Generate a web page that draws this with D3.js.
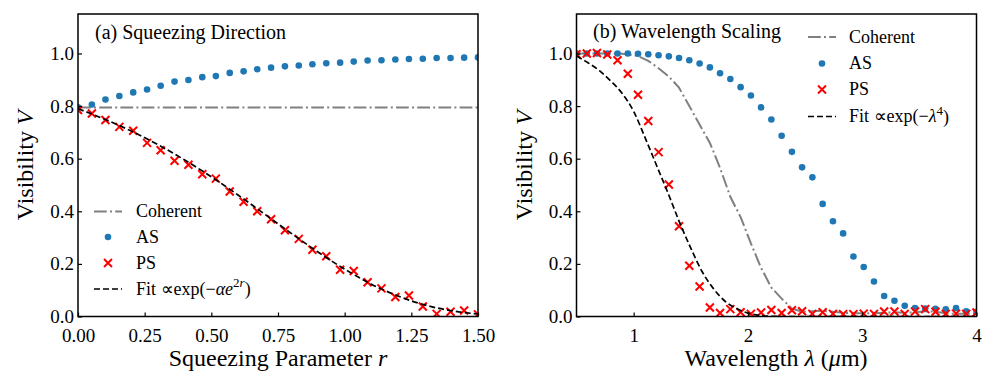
<!DOCTYPE html>
<html>
<head>
<meta charset="utf-8">
<script src="https://cdn.jsdelivr.net/npm/d3@7"></script>
<style>
  body { margin: 0; background: #fff; }
  text { font-family: "Liberation Serif", "Times New Roman", serif; fill: #000; }
</style>
</head>
<body>
<svg id="chart" width="995" height="389"></svg>
<script>
// ---- data ----
const squeezeR = [0, 0.052, 0.103, 0.155, 0.207, 0.259, 0.310, 0.362, 0.414, 0.466,
  0.517, 0.569, 0.621, 0.672, 0.724, 0.776, 0.828, 0.879, 0.931, 0.983,
  1.034, 1.086, 1.138, 1.190, 1.241, 1.293, 1.345, 1.397, 1.448, 1.5];
const squeezeAS = [0.795, 0.806, 0.825, 0.838, 0.852, 0.863, 0.877, 0.893, 0.899, 0.910,
  0.914, 0.926, 0.932, 0.940, 0.946, 0.951, 0.954, 0.959, 0.963, 0.965,
  0.969, 0.973, 0.974, 0.977, 0.979, 0.980, 0.983, 0.983, 0.984, 0.985];
const squeezePS = [0.785, 0.772, 0.747, 0.721, 0.706, 0.660, 0.632, 0.592, 0.577, 0.541,
  0.524, 0.475, 0.436, 0.400, 0.370, 0.328, 0.295, 0.254, 0.229, 0.178,
  0.173, 0.130, 0.107, 0.074, 0.080, 0.038, 0.010, 0.018, 0.023, 0.008];
const squeezeCoherentR = [0, 1.5];
const squeezeCoherent = [0.795, 0.795];
const squeezeFitR = [0, 0.1, 0.2, 0.3, 0.4, 0.5, 0.6, 0.7, 0.8, 0.9, 1.0, 1.1, 1.2, 1.3, 1.4, 1.5];
const squeezeFit = [0.790, 0.750, 0.705, 0.653, 0.595, 0.531, 0.462, 0.389, 0.316, 0.245,
  0.180, 0.123, 0.078, 0.044, 0.022, 0.0095];

const lambda = [0.5, 0.590, 0.679, 0.769, 0.859, 0.949, 1.038, 1.128, 1.218, 1.308,
  1.397, 1.487, 1.577, 1.667, 1.756, 1.846, 1.936, 2.026, 2.115, 2.205,
  2.295, 2.385, 2.474, 2.564, 2.654, 2.744, 2.833, 2.923, 3.013, 3.103,
  3.192, 3.282, 3.372, 3.462, 3.551, 3.641, 3.731, 3.821, 3.910, 4.0];
const waveAS = [1.0, 1.0, 1.0, 1.0, 1.0, 1.0, 0.999, 0.997, 0.993, 0.989,
  0.983, 0.974, 0.962, 0.947, 0.925, 0.903, 0.872, 0.840, 0.795, 0.749,
  0.687, 0.626, 0.567, 0.529, 0.428, 0.362, 0.316, 0.228, 0.188, 0.133,
  0.078, 0.060, 0.041, 0.032, 0.030, 0.029, 0.027, 0.032, 0.020, 0.018];
const wavePS = [0.997, 1.0, 1.002, 0.996, 0.974, 0.923, 0.843, 0.743, 0.625, 0.502,
  0.343, 0.193, 0.114, 0.034, 0.013, 0.028, 0.016, 0.010, 0.015, 0.025,
  0.013, 0.024, 0.020, 0.010, 0.016, 0.010, 0.009, 0.009, 0.011, 0.010,
  0.019, 0.019, 0.010, 0.019, 0.028, 0.018, 0.010, 0.011, 0.010, 0.015];
const waveCoherent = [1.0, 1.0, 1.0, 1.0, 1.0, 0.997, 0.990, 0.972, 0.944, 0.912,
  0.870, 0.800, 0.730, 0.660, 0.565, 0.455, 0.378, 0.278, 0.185, 0.110,
  0.068, 0.030, 0.018, 0.020, 0.022, 0.018, 0.014, 0.012, 0.012, 0.012,
  0.014, 0.016, 0.014, 0.016, 0.020, 0.018, 0.012, 0.010, 0.010, 0.010];
const waveFitL = [0.5, 0.6, 0.7, 0.8, 0.9, 1.0, 1.1, 1.2, 1.3, 1.4, 1.5, 1.6, 1.7, 1.8,
  1.9, 2.0, 2.1, 2.2, 2.3, 2.4, 4.0];
const waveFit = [0.990, 0.965, 0.935, 0.895, 0.848, 0.780, 0.680, 0.575, 0.470, 0.360,
  0.260, 0.170, 0.105, 0.058, 0.030, 0.013, 0.004, 0.001, 0, 0, 0];

const squeezeTicks = [0, 0.25, 0.5, 0.75, 1.0, 1.25, 1.5];
const waveTicks = [1, 2, 3, 4];
const visTicks = [0, 0.2, 0.4, 0.6, 0.8, 1.0];

const blue = "#1f77b4", red = "#ff0000", gray = "#808080";

var svg = d3.select("#chart");
var plotTop = 14, plotBottom = 316.5;

function zip(xs, ys) { return xs.map((x, i) => [x, ys[i]]); }

function panel(id, left, right, xDomain, xTicks, xFmt, series) {
  var x = d3.scaleLinear().domain(xDomain).range([left, right]);
  var y = d3.scaleLinear().domain([0, 1.15]).range([plotBottom, plotTop]);
  var g = svg.append("g").attr("id", id);

  g.append("clipPath").attr("id", "clip-" + id)
    .append("rect").attr("x", left).attr("y", plotTop)
    .attr("width", right - left).attr("height", plotBottom - plotTop);

  var plot = g.append("g").attr("clip-path", "url(#clip-" + id + ")");
  var line = d3.line().x(d => x(d[0])).y(d => y(d[1]));
  var smooth = d3.line().x(d => x(d[0])).y(d => y(d[1])).curve(d3.curveMonotoneX);

  // coherent
  plot.append("path").datum(series.coherent)
    .attr("d", line).attr("fill", "none").attr("stroke", gray)
    .attr("stroke-width", 2).attr("stroke-dasharray", "12.8,3.2,2,3.2");
  // AS
  plot.selectAll(".as").data(series.as).enter().append("circle")
    .attr("class", "as").attr("cx", d => x(d[0])).attr("cy", d => y(d[1]))
    .attr("r", 3.3).attr("fill", blue);
  // PS
  plot.selectAll(".ps").data(series.ps).enter().append("path")
    .attr("class", "ps")
    .attr("transform", d => `translate(${x(d[0])},${y(d[1])})`)
    .attr("d", "M-4,-4L4,4M-4,4L4,-4")
    .attr("stroke", red).attr("stroke-width", 2).attr("fill", "none");
  // fit
  plot.append("path").datum(series.fit)
    .attr("d", smooth).attr("fill", "none").attr("stroke", "#000")
    .attr("stroke-width", 1.7).attr("stroke-dasharray", "6,3");

  // axes
  var xAxis = d3.axisBottom(x).tickValues(xTicks).tickFormat(xFmt).tickSizeInner(-4).tickSizeOuter(0).tickPadding(8);
  var yAxis = d3.axisLeft(y).tickValues(visTicks).tickFormat(d3.format(".1f")).tickSizeInner(-4).tickSizeOuter(0).tickPadding(4);
  var gx = g.append("g").attr("transform", `translate(0,${plotBottom})`).call(xAxis);
  var gy = g.append("g").attr("transform", `translate(${left},0)`).call(yAxis);
  [gx, gy].forEach(a => {
    a.select(".domain").remove();
    a.selectAll(".tick line").attr("stroke", "#000").attr("stroke-width", 1.2);
    a.selectAll("text").attr("font-size", 19);
  });
  gx.selectAll("text").attr("dy", "0.9em");

  g.append("rect").attr("x", left).attr("y", plotTop)
    .attr("width", right - left).attr("height", plotBottom - plotTop)
    .attr("fill", "none").attr("stroke", "#000").attr("stroke-width", 1.5);

  // y label
  var yl = g.append("text")
    .attr("transform", `translate(${left - 45},${(plotTop + plotBottom) / 2}) rotate(-90)`)
    .attr("text-anchor", "middle").attr("font-size", 24);
  yl.append("tspan").text("Visibility ");
  yl.append("tspan").attr("font-style", "italic").text("V");

  return { g: g, x: x, y: y };
}

function legend(g, lx, tx, rows, fitLabel) {
  var kinds = ["coherent", "as", "ps", "fit"];
  var labels = ["Coherent", "AS", "PS", null];
  kinds.forEach((k, i) => {
    var yy = rows[i];
    if (k === "coherent") {
      g.append("line").attr("x1", lx).attr("x2", lx + 28).attr("y1", yy).attr("y2", yy)
        .attr("stroke", gray).attr("stroke-width", 2).attr("stroke-dasharray", "12.8,3.2,2,3.2");
    } else if (k === "as") {
      g.append("circle").attr("cx", lx + 14).attr("cy", yy).attr("r", 3.3).attr("fill", blue);
    } else if (k === "ps") {
      g.append("path").attr("transform", `translate(${lx + 14},${yy})`)
        .attr("d", "M-4,-4L4,4M-4,4L4,-4").attr("stroke", red).attr("stroke-width", 2);
    } else {
      g.append("line").attr("x1", lx).attr("x2", lx + 28).attr("y1", yy).attr("y2", yy)
        .attr("stroke", "#000").attr("stroke-width", 1.7).attr("stroke-dasharray", "6,3");
    }
    var t = g.append("text").attr("x", tx).attr("y", yy).attr("dy", "0.33em").attr("font-size", 18);
    if (labels[i]) t.text(labels[i]);
    else fitLabel(t);
  });
}

// (a) squeezing direction
var a = panel("pa", 78, 478, [0, 1.5], squeezeTicks, d3.format(".2f"), {
  coherent: zip(squeezeCoherentR, squeezeCoherent),
  as: zip(squeezeR, squeezeAS),
  ps: zip(squeezeR, squeezePS),
  fit: zip(squeezeFitR, squeezeFit)
});
a.g.append("text").attr("x", 95).attr("y", 39).attr("font-size", 20).text("(a) Squeezing Direction");
var ax = a.g.append("text").attr("x", 278).attr("y", 366).attr("text-anchor", "middle").attr("font-size", 24);
ax.append("tspan").text("Squeezing Parameter ");
ax.append("tspan").attr("font-style", "italic").text("r");
legend(a.g, 94, 136, [211.5, 237, 263, 289], t => {
  t.append("tspan").text("Fit \u221Dexp(\u2212");
  t.append("tspan").attr("font-style", "italic").text("\u03B1e");
  t.append("tspan").attr("font-size", 13).attr("dy", "-0.6em").text("2");
  t.append("tspan").attr("font-size", 13).attr("font-style", "italic").text("r");
  t.append("tspan").attr("dy", "0.45em").text(")");
});

// (b) wavelength scaling
var b = panel("pb", 576.5, 976.5, [0.5, 4], waveTicks, d3.format("d"), {
  coherent: zip(lambda, waveCoherent),
  as: zip(lambda, waveAS),
  ps: zip(lambda, wavePS),
  fit: zip(waveFitL, waveFit)
});
b.g.append("text").attr("x", 593).attr("y", 38).attr("font-size", 20).text("(b) Wavelength Scaling");
var bx = b.g.append("text").attr("x", 776).attr("y", 366).attr("text-anchor", "middle").attr("font-size", 24);
bx.append("tspan").text("Wavelength ");
bx.append("tspan").attr("font-style", "italic").text("\u03BB");
bx.append("tspan").text(" (");
bx.append("tspan").attr("font-style", "italic").text("\u03BC");
bx.append("tspan").text("m)");
legend(b.g, 808, 849, [37, 63.5, 89.5, 116.5], t => {
  t.append("tspan").text("Fit \u221Dexp(\u2212");
  t.append("tspan").attr("font-style", "italic").text("\u03BB");
  t.append("tspan").attr("font-size", 13).attr("dy", "-0.6em").text("4");
  t.append("tspan").attr("dy", "0.45em").text(")");
});
</script>
</body>
</html>
